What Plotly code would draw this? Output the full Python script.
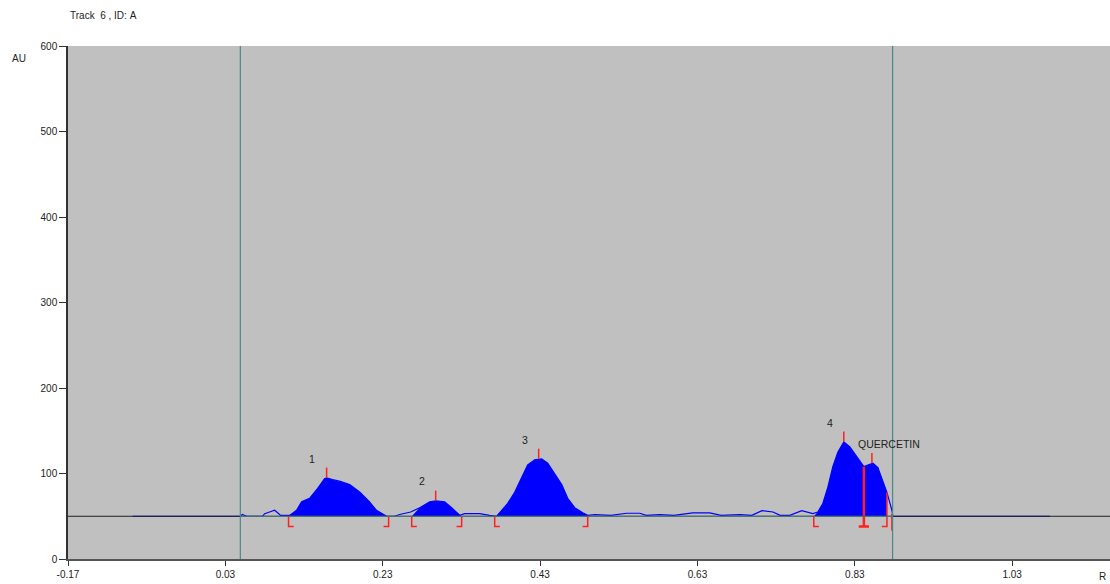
import plotly.graph_objects as go

# ---- data ----
rf_signal = [-0.088, 0.040, 0.0493, 0.0515, 0.054, 0.057, 0.0773, 0.080, 0.0862, 0.0926, 0.0964,
             0.1002, 0.1053, 0.1116, 0.1205, 0.1269, 0.137, 0.146, 0.156, 0.1587, 0.166, 0.175,
             0.188, 0.201, 0.213, 0.222, 0.235, 0.2375, 0.245, 0.2515, 0.2579, 0.2655, 0.277,
             0.2897, 0.2973, 0.3087, 0.3176, 0.3278, 0.3341, 0.3532, 0.3659, 0.3748, 0.3812,
             0.3888, 0.3977, 0.4066, 0.4142, 0.4231, 0.4282, 0.4320, 0.4397, 0.4486, 0.4575,
             0.4651, 0.4740, 0.4842, 0.4905, 0.500, 0.520, 0.540, 0.5566, 0.565, 0.582, 0.600,
             0.624, 0.6456, 0.660, 0.684, 0.699, 0.712, 0.726, 0.735, 0.7473, 0.7626, 0.7766,
             0.783, 0.7893, 0.7957, 0.802, 0.8084, 0.816, 0.8237, 0.8326, 0.8415, 0.8466,
             0.853, 0.8593, 0.8657, 0.8708, 0.8771, 0.8784, 0.8873, 1.0781]
au_signal = [50, 50, 50, 52, 51, 50, 50, 53, 55, 57, 54,
             51, 51, 51, 57, 67, 71, 81, 94, 95, 93, 91,
             87, 78, 67, 57, 50, 50, 50, 52, 53, 55, 60,
             67, 68, 67, 60, 51, 53, 53, 51, 50, 57,
             65, 78, 96, 110, 116, 117, 117, 112, 100, 87,
             71, 60, 54, 51, 52, 51, 53.5, 53.5, 51, 52, 51,
             54, 54, 51, 52, 51, 56.5, 55, 51, 51, 56.5, 53,
             55, 65, 84, 108, 125, 137, 131, 119, 108, 110,
             112, 107, 92, 78, 57, 50, 50, 50]

baseline_au = 50
peak_labels = ["1", "2", "3", "4", "QUERCETIN"]
peak_start = [0.1103, 0.2668, 0.3723, 0.7778, 0.8415]
peak_end = [0.2375, 0.3303, 0.4905, 0.8415, 0.8708]
peak_apex_rf = [0.1587, 0.2973, 0.4282, 0.816, 0.8517]
peak_apex_au = [95, 68, 117, 137, 112]
label_rf = [0.1396, 0.2795, 0.4103, 0.798, 0.874]
label_au = [117, 91, 139, 159, 134.5]

window_lines_rf = [0.049, 0.878]
x_ticks = [-0.17, 0.03, 0.23, 0.43, 0.63, 0.83, 1.03]
y_ticks = [0, 100, 200, 300, 400, 500, 600]

FONT = "Liberation Sans, Arial, sans-serif"
RED = "#ff2020"
fig = go.Figure()

# baseline (teal inside the window, black outside)
fig.add_shape(type="line", x0=-0.17, x1=1.16, y0=baseline_au, y1=baseline_au,
              line=dict(color="#202020", width=1), layer="above")
fig.add_shape(type="line", x0=window_lines_rf[0], x1=window_lines_rf[1], y0=baseline_au, y1=baseline_au,
              line=dict(color="#4f8585", width=1), layer="above")

# filled peaks
for s, e in zip(peak_start, peak_end):
    xs = [x for x in rf_signal if s <= x <= e]
    ys = [y for x, y in zip(rf_signal, au_signal) if s <= x <= e]
    fig.add_trace(go.Scatter(x=[s] + xs + [e], y=[baseline_au] + ys + [baseline_au],
                             fill="toself", fillcolor="#0000ff", mode="lines",
                             line=dict(width=0, color="#0000ff"), hoverinfo="skip",
                             showlegend=False))

# signal line
fig.add_trace(go.Scatter(x=rf_signal, y=au_signal, mode="lines",
                         line=dict(color="#0000ff", width=1.2), showlegend=False))

# window lines
for xv in window_lines_rf:
    fig.add_shape(type="line", x0=xv, x1=xv, y0=0, y1=600,
                  line=dict(color="#4f8585", width=1.2), layer="above")

def sig_at(x):
    for i in range(len(rf_signal) - 1):
        if rf_signal[i] <= x <= rf_signal[i + 1]:
            x0, x1 = rf_signal[i], rf_signal[i + 1]
            y0, y1 = au_signal[i], au_signal[i + 1]
            return y0 + (y1 - y0) * (x - x0) / (x1 - x0) if x1 > x0 else y0
    return baseline_au

# red brackets and apex ticks
bx, by = [], []
foot = 0.0065
low = baseline_au - 12
for i, (s, e) in enumerate(zip(peak_start, peak_end)):
    if i == 4:
        continue
    bx += [s + foot, s, s, None]
    by += [low, low, baseline_au, None]
    if i < 3:
        bx += [e, e, e - foot, None]
        by += [baseline_au, low, low, None]
qe = peak_end[4]
bx += [qe, qe, qe - foot, None]
by += [sig_at(qe), low, low, None]
bx += [0.8771, 0.8771, None]
by += [53, baseline_au - 17, None]
for a, h in zip(peak_apex_rf, peak_apex_au):
    bx += [a, a, None]
    by += [h, h + 12, None]
fig.add_trace(go.Scatter(x=bx, y=by, mode="lines", line=dict(color=RED, width=1.5),
                         hoverinfo="skip", showlegend=False))
sp = peak_start[4]
fig.add_trace(go.Scatter(x=[sp - foot, sp + foot, None, sp, sp], y=[low, low, None, low, sig_at(sp)],
                         mode="lines", line=dict(color=RED, width=2.5),
                         hoverinfo="skip", showlegend=False))

# peak labels
for t, lx, ly in zip(peak_labels, label_rf, label_au):
    fig.add_annotation(x=lx, y=ly, text=t, showarrow=False,
                       font=dict(family=FONT, size=10.5, color="#222"))

fig.add_annotation(xref="paper", yref="paper", x=0.0, y=1.0604, xanchor="left", yanchor="middle",
                   text="Track\u00a0\u00a06\u00a0,\u00a0ID:\u00a0A", showarrow=False,
                   font=dict(family=FONT, size=10, color="#222"))
fig.add_annotation(xref="paper", yref="paper", x=-0.0557, y=0.9766, xanchor="left", yanchor="middle",
                   text="AU", showarrow=False, font=dict(family=FONT, size=10, color="#222"))
fig.add_annotation(xref="paper", yref="paper", x=0.9985, y=-0.034, xanchor="right", yanchor="middle",
                   text="R", showarrow=False, font=dict(family=FONT, size=10, color="#222"))

fig.update_layout(
    width=1110, height=584,
    margin=dict(l=68, r=0, t=46, b=25),
    paper_bgcolor="white", plot_bgcolor="#c0c0c0",
    font=dict(family=FONT, size=10, color="#222"),
    showlegend=False,
    xaxis=dict(range=[-0.17, 1.1543], tickvals=x_ticks, ticktext=[f"{v:.2f}" for v in x_ticks],
               ticks="outside", ticklen=5, tickcolor="#333", showgrid=False, zeroline=False,
               showline=True, linecolor="#555", linewidth=2, tickfont=dict(size=10)),
    yaxis=dict(range=[0, 600], tickvals=y_ticks, ticks="outside", ticklen=7, tickcolor="#333",
               showgrid=False, zeroline=False, showline=True, linecolor="#333", linewidth=1.5,
               tickfont=dict(size=10)),
)

fig.write_html("out.html")
